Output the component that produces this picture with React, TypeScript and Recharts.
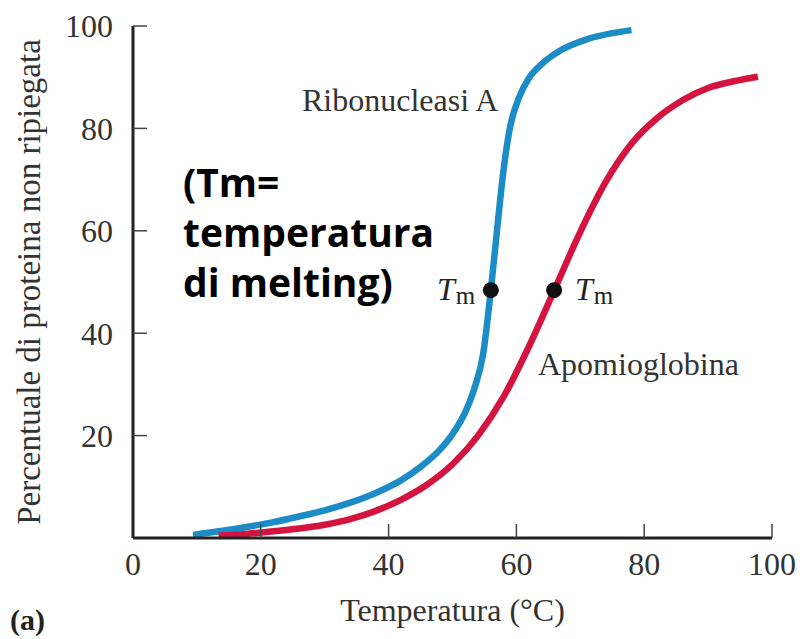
import { LineChart, Line, XAxis, YAxis, ReferenceDot } from "recharts";

// Ribonucleasi A: temperatura (°C) and % di proteina non ripiegata
const ribonucleasiT = [9.4, 14, 18, 22, 26, 30, 34, 38, 42, 45, 48, 50, 52, 53.5, 54.8, 56, 57, 58, 59, 60.5, 62, 64, 67, 71, 75, 78];
const ribonucleasiP = [0.6, 1.4, 2.2, 3.1, 4.2, 5.4, 6.9, 8.8, 11.3, 13.9, 17.2, 20.3, 24.6, 29.5, 36, 48.4, 60.5, 72, 80.2, 86.3, 89.9, 92.6, 95.3, 97.4, 98.6, 99.2];

// Apomioglobina
const apomioT = [13.4, 18, 22, 26, 30, 34, 38, 42, 46, 50, 54, 58, 62, 66, 70, 74, 78, 82, 86, 90, 94, 97.8];
const apomioP = [0.45, 0.85, 1.3, 1.85, 2.6, 3.7, 5.3, 7.5, 10.4, 14.4, 20, 27.6, 37.5, 48.6, 59.8, 69.6, 77, 82, 85.5, 87.9, 89.2, 90.1];

const tmRibonucleasi = { x: 56, y: 48.4 };
const tmApomio = { x: 65.9, y: 48.4 };

const xTicks = [0, 20, 40, 60, 80, 100];
const yTicks = [20, 40, 60, 80, 100];
const innerTicks = [20, 40, 60, 80];

const ribonucleasi = ribonucleasiT.map((t, i) => ({ x: t, y: ribonucleasiP[i] }));
const apomio = apomioT.map((t, i) => ({ x: t, y: apomioP[i] }));

const serif = "'Liberation Serif', 'DejaVu Serif', serif";
const axisColor = "#222";
const textColor = "#333";

function TmLabel({ left }: { left: number }) {
  return (
    <div style={{ position: "absolute", left, top: 271, fontSize: 32, color: "#222", whiteSpace: "nowrap" }}>
      <i>T</i>
      <span style={{ fontSize: 25, position: "relative", top: 4, marginLeft: 1 }}>m</span>
    </div>
  );
}

export default function App() {
  const tickStyle = { fontSize: 32, fill: textColor, fontFamily: serif };

  return (
    <div style={{ position: "absolute", left: 0, top: 0, width: 802, height: 639, background: "#fff", fontFamily: serif }}>
      <LineChart width={802} height={639} margin={{ top: 26, right: 30, bottom: 11, left: 53 }}>
        <XAxis
          dataKey="x"
          type="number"
          domain={[0, 100]}
          ticks={xTicks}
          allowDataOverflow
          height={90}
          axisLine={{ stroke: axisColor, strokeWidth: 3 }}
          tickLine={{ stroke: "#444", strokeWidth: 1.5 }}
          tickSize={-14}
          tickMargin={28}
          tick={tickStyle}
          label={{ value: "Temperatura (°C)", position: "insideBottom", offset: 7, style: { fontSize: 32, fill: textColor, fontFamily: serif } }}
        />
        <XAxis
          xAxisId="top"
          orientation="top"
          type="number"
          domain={[0, 100]}
          height={0}
          tick={false}
          axisLine={{ stroke: axisColor, strokeWidth: 3 }}
        />
        <YAxis
          type="number"
          domain={[0, 100]}
          ticks={yTicks}
          width={80}
          axisLine={{ stroke: axisColor, strokeWidth: 3 }}
          tickLine={{ stroke: "#444", strokeWidth: 1.5 }}
          tickSize={-14}
          tickMargin={34}
          tick={tickStyle}
          label={{
            value: "Percentuale di proteina non ripiegata",
            angle: -90,
            position: "insideLeft",
            offset: -25,
            style: { fontSize: 33, fill: textColor, fontFamily: serif, textAnchor: "middle" },
          }}
        />
        <YAxis
          yAxisId="right"
          orientation="right"
          type="number"
          domain={[0, 100]}
          ticks={innerTicks}
          width={0}
          axisLine={{ stroke: axisColor, strokeWidth: 3 }}
          tickLine={{ stroke: "#444", strokeWidth: 1.5 }}
          tickSize={-14}
          tickFormatter={() => ""}
        />
        <Line
          data={ribonucleasi}
          dataKey="y"
          type="monotone"
          stroke="#1b8cc5"
          strokeWidth={6.5}
          dot={false}
          isAnimationActive={false}
        />
        <Line
          data={apomio}
          dataKey="y"
          type="monotone"
          stroke="#d4133f"
          strokeWidth={6.5}
          dot={false}
          isAnimationActive={false}
        />
        <ReferenceDot x={tmRibonucleasi.x} y={tmRibonucleasi.y} r={8} fill="#111" stroke="none" />
        <ReferenceDot x={tmApomio.x} y={tmApomio.y} r={8} fill="#111" stroke="none" />
      </LineChart>

      <div style={{ position: "absolute", left: 302, top: 82, fontSize: 32, color: textColor, whiteSpace: "nowrap" }}>
        Ribonucleasi A
      </div>
      <div style={{ position: "absolute", left: 538, top: 346, fontSize: 32, color: textColor, whiteSpace: "nowrap" }}>
        Apomioglobina
      </div>
      <TmLabel left={437} />
      <TmLabel left={575} />
      <div
        style={{
          position: "absolute",
          left: 183,
          top: 157,
          fontSize: 39,
          lineHeight: "50px",
          fontWeight: 700,
          fontFamily: "'Open Sans', 'Noto Sans', sans-serif",
          color: "#000",
          whiteSpace: "nowrap",
        }}
      >
        (Tm=
        <br />
        temperatura
        <br />
        di melting)
      </div>
      <div style={{ position: "absolute", left: 10, top: 603, fontSize: 30, fontWeight: 700, color: "#222" }}>(a)</div>
    </div>
  );
}
